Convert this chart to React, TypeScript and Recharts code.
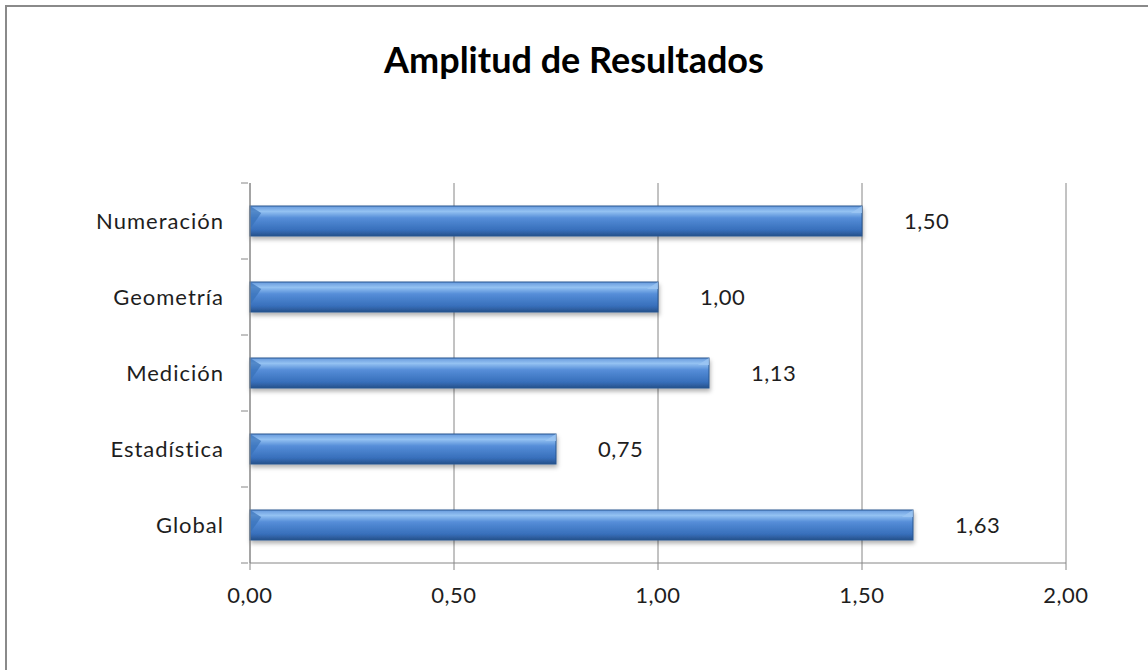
import React from 'react';
import { BarChart, Bar, XAxis, YAxis, CartesianGrid, LabelList } from 'recharts';

const categories = ['Numeración', 'Geometría', 'Medición', 'Estadística', 'Global'];
const amplitudes = [1.5, 1.0, 1.125, 0.75, 1.625];
const xTicks = [0, 0.5, 1, 1.5, 2];

const data = categories.map((name, i) => ({ name, value: amplitudes[i] }));

const W = 1148;
const H = 670;
const M = { top: 183, right: 82, bottom: 10, left: 0 };
const Y_AXIS_W = 250;
const X_AXIS_H = 97;
const BAND = (H - M.top - M.bottom - X_AXIS_H) / categories.length;

const fmt = (v: number) => v.toFixed(2).replace('.', ',');
const font = 'Lato, "Open Sans", sans-serif';

const CategoryTick = (props: any) => {
  const { x, y, payload, index } = props;
  const axisX = x + 8;
  return (
    <g>
      <line x1={axisX - 7} x2={axisX} y1={y - BAND / 2} y2={y - BAND / 2} stroke="#868686" />
      {index === categories.length - 1 && (
        <line x1={axisX - 7} x2={axisX} y1={y + BAND / 2} y2={y + BAND / 2} stroke="#868686" />
      )}
      <text
        x={x - 16}
        y={y}
        dy={8}
        textAnchor="end"
        fontSize={22}
        letterSpacing={1}
        fill="#1e1e1e"
        fontFamily={font}
      >
        {payload.value}
      </text>
    </g>
  );
};

const GlossyBar = (props: any) => {
  const { x, y, width, height } = props;
  if (!width || width <= 0) return null;
  const b = Math.min(7, height / 4);
  return (
    <g filter="url(#barShadow)">
      <rect x={x} y={y} width={width} height={height} fill="url(#barFill)" stroke="#285690" strokeWidth={1} />
      <polygon points={`${x},${y} ${x + b * 1.6},${y + b} ${x},${y + height - b}`} fill="#3870b8" opacity={0.7} />
      <polygon points={`${x + width},${y} ${x + width - b * 1.6},${y + b} ${x + width},${y + b}`} fill="#9cc6f2" opacity={0.8} />
    </g>
  );
};

export default function App() {
  return (
    <div style={{ position: 'absolute', left: 0, top: 0, width: W, height: H, background: '#fff' }}>
      <div
        style={{
          position: 'absolute',
          left: 5,
          top: 5,
          width: W - 5,
          height: H - 5,
          borderLeft: '2px solid #8a8a8a',
          borderTop: '2px solid #8a8a8a',
          boxSizing: 'border-box',
        }}
      />
      <div
        style={{
          position: 'absolute',
          left: 0,
          top: 37,
          width: W,
          textAlign: 'center',
          fontFamily: font,
          fontWeight: 700,
          fontSize: 36,
          color: '#000',
        }}
      >
        Amplitud de Resultados
      </div>
      <div style={{ position: 'absolute', left: 0, top: 0 }}>
        <BarChart width={W} height={H} data={data} layout="vertical" margin={M} barSize={30}>
          <defs>
            <linearGradient id="barFill" x1="0" y1="0" x2="0" y2="1">
              <stop offset="0%" stopColor="#6699dc" />
              <stop offset="18%" stopColor="#94c2f2" />
              <stop offset="40%" stopColor="#558dd8" />
              <stop offset="80%" stopColor="#386fbb" />
              <stop offset="100%" stopColor="#25518b" />
            </linearGradient>
            <filter id="barShadow" x="-5%" y="-30%" width="110%" height="180%">
              <feDropShadow dx={1} dy={3} stdDeviation={2} floodColor="#000" floodOpacity={0.3} />
            </filter>
          </defs>
          <CartesianGrid horizontal={false} stroke="#868686" strokeWidth={1} />
          <XAxis
            type="number"
            domain={[0, 2]}
            ticks={xTicks}
            tickFormatter={fmt}
            height={X_AXIS_H}
            stroke="#868686"
            tickSize={7}
            tick={{ fill: '#1e1e1e', fontSize: 22, fontFamily: font, dy: 15, letterSpacing: 0.5 }}
            interval={0}
          />
          <YAxis
            type="category"
            dataKey="name"
            width={Y_AXIS_W}
            stroke="#868686"
            tickLine={false}
            tickSize={8}
            tick={<CategoryTick />}
            interval={0}
          />
          <Bar dataKey="value" shape={<GlossyBar />} isAnimationActive={false}>
            <LabelList
              dataKey="value"
              position="right"
              offset={42}
              formatter={(v: any) => fmt(Number(v))}
              style={{ fill: '#1e1e1e', fontSize: 22, fontFamily: font, letterSpacing: 0.5 }}
            />
          </Bar>
        </BarChart>
      </div>
    </div>
  );
}
